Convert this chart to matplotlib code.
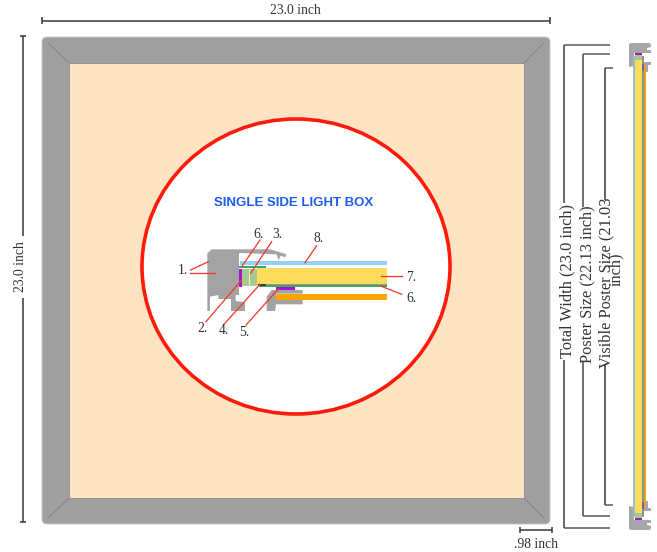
import matplotlib
matplotlib.use("Agg")
import matplotlib.pyplot as plt
from matplotlib.patches import FancyBboxPatch, Polygon, Rectangle, Ellipse

SERIF = "Liberation Serif"
part_labels = ["1.", "6.", "3.", "8.", "7.", "6.", "2.", "4.", "5."]
part_label_pos = [(38,165),(266,60),(322,60),(445,72),(725,188),(725,250),(97,340),(163,348),(223,353)]
leaders = [((62,165),(115,140)),((60,173),(135,173)),((215,155),(270,75)),((242,175),(305,80)),
           ((405,143),(440,92)),((108,320),(215,195)),((160,330),(270,208)),((228,330),(325,222)),
           ((632,183),(695,183)),((632,213),(695,238))]
title = "SINGLE SIDE LIGHT BOX"
dim_top = "23.0 inch"
dim_left = "23.0 inch"
dim_bottom = ".98 inch"
side_labels = ["Total Width (23.0 inch)", "Poster Size (22.13 inch)", "Visible Poster Size (21.03"]

fig = plt.figure(figsize=(6.57, 5.52), dpi=100)
ax = fig.add_axes([0, 0, 1, 1])
ax.set_xlim(0, 657); ax.set_ylim(552, 0); ax.axis("off")
PX = 0.72

def line(x, y, c="#333333", w=1.5, z=5):
    ax.plot(x, y, color=c, lw=w*PX, solid_capstyle="butt", zorder=z)

# Frame
ax.add_patch(FancyBboxPatch((46,41), 500, 479, boxstyle="round,pad=4,rounding_size=5", fc="#a0a0a0", ec="#c4c4c4", lw=0.6, zorder=1))
ax.add_patch(Rectangle((69,63), 455, 435, fc="#ffe4c4", ec="none", zorder=2))
for a, b in [((48,43),(69,63)),((544,43),(524,63)),((48,518),(69,498)),((544,518),(524,498))]:
    line([a[0],b[0]],[a[1],b[1]],c="#858585",w=1,z=3)
line([69,524],[63,63],c="#949494",w=1,z=3); line([69,524],[498,498],c="#949494",w=1,z=3)
line([69,69],[63,498],c="#949494",w=1,z=3); line([524,524],[63,498],c="#949494",w=1,z=3)

# Circle
ax.add_patch(Ellipse((296,266.5),308,295,fc="white",ec="#ff1a0a",lw=3.6*PX,zorder=4))
ax.text(293.5,203,title,family="Liberation Sans",weight="bold",fontsize=9.5,color="#1c5df2",ha="center",va="center",zorder=6)

# Cross-section (drawn in zoomed-detail coordinates)
def Z(p): return (170+p[0]/3, 215+p[1]/3)
def poly(pts,c,z=5,ec="none"):
    ax.add_patch(Polygon([Z(p) for p in pts],closed=True,fc=c,ec=ec,lw=0.4,zorder=z))
def rect(x0,y0,x1,y1,c,z=5.2):
    poly([(x0,y0),(x1,y0),(x1,y1),(x0,y1)],c,z)
G = "#a3a3a3"
poly([(112,115),(125,103),(300,103),(350,118),(345,127),(332,122),(326,136),(320,118),(207,114),(207,240),(197,240),(197,258),(225,262),(225,288),(183,288),(183,252),(145,252),(145,240),(120,245),(120,288),(112,288)],G)
poly([(290,288),(290,245),(305,225),(398,225),(398,236),(318,236),(318,255),(398,255),(398,268),(318,268),(315,288)],G)
rect(210,138,650,150,"#93d3ef")
rect(207,153,288,160,"#3fa66a")
rect(262,207,650,210,"#9a9a7a")
rect(265,210,650,216,"#3fa66a")
rect(262,160,650,207,"#ffdc5c")
rect(217,163,260,214,"#a8c98c")
line([Z((238,0))[0]]*2,[Z((0,163))[1],Z((0,214))[1]],c="#e8f0d8",w=1,z=5.3)
rect(207,162,217,216,"#a414d8")
rect(265,206,288,212,"#3a3a30",5.3)
rect(318,215,375,224,"#a414d8")
rect(318,236,650,254,"#ffa500")
for a,b in leaders:
    pa,pb=Z(a),Z(b)
    ax.plot([pa[0],pb[0]],[pa[1],pb[1]],color="#f03a30",lw=1.3*PX,zorder=6)
for s,p in zip(part_labels,part_label_pos):
    q=Z(p)
    ax.text(q[0],q[1],s,family=SERIF,fontsize=9.8,color="#333333",ha="center",va="center",zorder=7)

# Dimensions
line([41.5,550],[20.5,20.5]); line([41.5,41.5],[17,24]); line([550,550],[17,24])
ax.text(295.5,10.5,dim_top,family=SERIF,fontsize=9.8,color="#333333",ha="center",va="center")
line([23,23],[36,236]); line([23,23],[298,522]); line([20,26],[36,36]); line([20,26],[522,522])
ax.text(20.5,267,dim_left,family=SERIF,fontsize=9.8,color="#333333",rotation=90,ha="center",va="center")
line([520,552],[530,530]); line([520,520],[527,533]); line([552,552],[527,533])
ax.text(536,544,dim_bottom,family=SERIF,fontsize=9.8,color="#333333",ha="center",va="center")

# Side brackets
for x,top,bot,xe,g0,g1,c in [(563.5,44.5,527.5,610,203,360,"#3a3a3a"),(583,53.5,516,610,207,362,"#444444"),(604.5,67.5,505,612.5,200,365,"#333333")]:
    line([x,x],[top,g0],c=c); line([x,x],[g1,bot],c=c)
    line([x,xe],[top,top],c="#555555"); line([x,xe],[bot,bot],c="#555555")
for s,x,y in [(side_labels[0],567,281.5),(side_labels[1],587.5,284.5),(side_labels[2],606.5,282.5)]:
    ax.text(x,y,s,family=SERIF,fontsize=11.8,color="#333333",rotation=90,ha="center",va="center",zorder=7)
ax.text(616,269,"inch)",family=SERIF,fontsize=11.8,color="#333333",rotation=90,ha="center",va="center",zorder=7)

# Side view
def side(flip):
    Y=(lambda y:573-y) if flip else (lambda y:y)
    G2="#a6a6a6"
    ax.add_patch(Polygon([(629,Y(44)),(631,Y(43)),(650,Y(43)),(651,Y(45)),(651,Y(47)),(647,Y(48)),(647,Y(50)),(651,Y(50)),(651,Y(53)),(634,Y(53)),(634,Y(66)),(629,Y(67))],closed=True,fc=G2,ec="none",zorder=5))
    ax.add_patch(Polygon([(643,Y(62)),(651,Y(62)),(651,Y(65)),(648,Y(65)),(648,Y(72)),(643,Y(72))],closed=True,fc=G2,ec="none",zorder=5))
    ax.add_patch(Rectangle((634.5,min(Y(53),Y(60))),7,7,fc="#a8c98c",ec="none",zorder=5.2))
    ax.add_patch(Rectangle((634.5,min(Y(53),Y(55))),7,2,fc="#a414d8",ec="none",zorder=5.3))
    ax.add_patch(Rectangle((642,min(Y(64),Y(71))),2,7,fc="#8a5aa8",ec="none",zorder=5.3))
side(False); side(True)
ax.add_patch(Rectangle((633,56),2,461,fc="#93bfd0",ec="none",zorder=5))
ax.add_patch(Rectangle((635,58),6.5,457,fc="#ffdc5c",ec="none",zorder=5))
ax.add_patch(Rectangle((642,56),1.5,461,fc="#7f9a80",ec="none",zorder=5))
ax.add_patch(Rectangle((644,66),2.4,441,fc="#f0a020",ec="none",zorder=5))
fig.savefig("out.png",dpi=100,facecolor="white")
